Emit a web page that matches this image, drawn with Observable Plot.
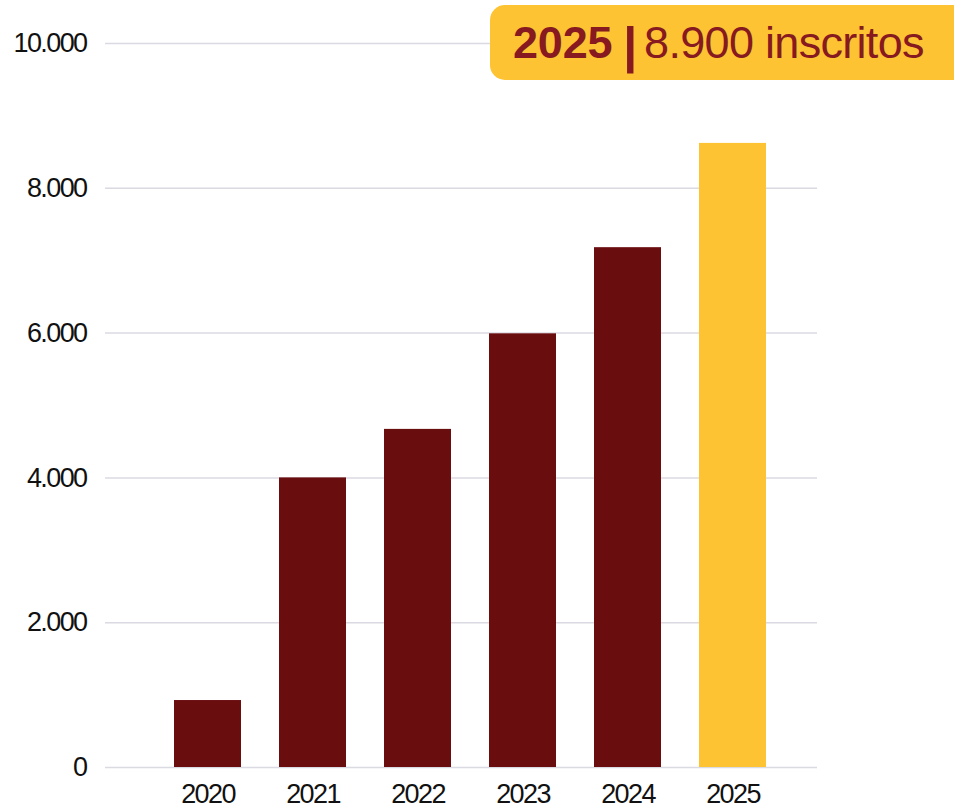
<!DOCTYPE html>
<html>
<head>
<meta charset="utf-8">
<script src="https://cdn.jsdelivr.net/npm/d3@7"></script>
<script src="https://cdn.jsdelivr.net/npm/@observablehq/plot@0.6"></script>
<style>
  html, body { margin: 0; padding: 0; background: #fff; }
  #wrap { position: relative; width: 954px; height: 812px; overflow: hidden; }
  #badge {
    position: absolute; left: 490px; top: 5px; width: 480px; height: 75px;
    background: #FDC332; border-radius: 15px;
    font-family: "Liberation Sans", Arial, sans-serif; font-size: 45px;
    line-height: 75px; color: #861A20; padding-left: 23px; box-sizing: border-box;
    white-space: nowrap; letter-spacing: -0.7px;
  }
  #badge b { font-weight: 700; letter-spacing: -0.2px; }
  #badge .pipe { font-size: 50px; line-height: 0; position: relative; top: 4px; margin: 0 7px 0 11px; }
  #chart svg text { letter-spacing: -1.6px; }
</style>
</head>
<body>
<div id="wrap">
  <div id="chart"></div>
  <div id="badge"><b>2025</b><b class="pipe">|</b>8.900 inscritos</div>
</div>
<script>
const years = ["2020", "2021", "2022", "2023", "2024", "2025"];
const enrolled = [925, 4000, 4670, 5990, 7180, 8620];
const yTicks = [0, 2000, 4000, 6000, 8000, 10000];
const highlightYear = "2025";

const data = years.map((year, i) => ({year, value: enrolled[i]}));
const fmt = d3.formatLocale({decimal: ",", thousands: ".", grouping: [3], currency: ["", "€"]}).format(",d");

const RED = "#6A0D0F";
const YELLOW = "#FDC332";

const chart = Plot.plot({
  width: 954,
  height: 812,
  marginLeft: 105,
  marginRight: 137,
  marginTop: 43,
  marginBottom: 45,
  style: {fontFamily: "'Liberation Sans', Arial, sans-serif", fontSize: "27px", color: "#111", background: "#fff"},
  x: {domain: years, paddingInner: 0.365, paddingOuter: 0.553, align: 0.573, label: null},
  y: {domain: [0, 10000], label: null},
  marks: [
    Plot.ruleY(yTicks, {stroke: "#dadae2", strokeWidth: 1.5}),
    Plot.barY(data, {x: "year", y: "value", fill: d => d.year === highlightYear ? YELLOW : RED}),
    Plot.axisY({ticks: yTicks, tickFormat: fmt, tickSize: 0, tickPadding: 19, fill: "#111"}),
    Plot.axisX({tickSize: 0, tickPadding: 16, fill: "#111"})
  ]
});
document.getElementById("chart").appendChild(chart);
</script>
</body>
</html>
